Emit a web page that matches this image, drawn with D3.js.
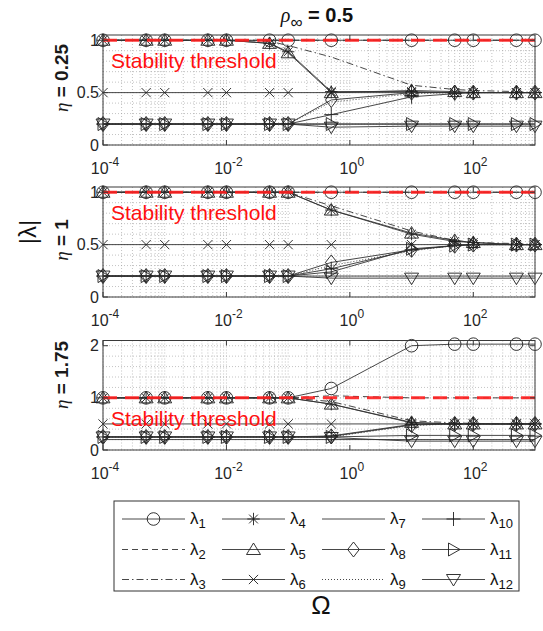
<!DOCTYPE html>
<html><head><meta charset="utf-8">
<script src="https://cdn.jsdelivr.net/npm/d3@7"></script>
<style>
body{margin:0;background:#fff}
svg{display:block}
text{font-family:"Liberation Sans",Arial,Helvetica,sans-serif}
</style>
</head><body>
<svg id="chart" width="543" height="631"></svg>
<script>
// ---------------- data ----------------
const omega = [1e-4, 5e-4, 1e-3, 5e-3, 1e-2, 5e-2, 0.1, 0.5, 10, 50, 100, 500, 1000];
const xTickValues = [1e-4, 1e-2, 1, 1e2];
const xTickExponents = ["-4", "-2", "0", "2"];
const etaValues = ["0.25", "1", "1.75"];
const yTicksLow = [0, 0.5, 1];
const yTicksHigh = [0, 1, 2];
const yMaxValues = [1.05, 1.05, 2.1];
const stabilityThreshold = 1;
const seriesNames = ["1","2","3","4","5","6","7","8","9","10","11","12"];

const lambdaEta025 = [
  [1,1,1,1,1,1,1,1,1,1,1,1,1],
  [1,1,1,1,1,1,1,1,1,1,1,1,1],
  [1,1,1,1,1,0.99,0.95,0.84,0.57,0.53,0.52,0.51,0.5],
  [1,1,1,1,1,0.97,0.89,0.51,0.51,0.5,0.5,0.5,0.5],
  [1,1,1,1,1,0.97,0.88,0.5,0.52,0.51,0.5,0.5,0.5],
  [0.5,0.5,0.5,0.5,0.5,0.5,0.5,0.5,0.5,0.5,0.5,0.5,0.5],
  [0.2,0.2,0.2,0.2,0.2,0.2,0.2,0.2,0.2,0.2,0.2,0.2,0.2],
  [0.2,0.2,0.2,0.2,0.2,0.2,0.2,0.43,0.5,0.5,0.5,0.5,0.5],
  [0.2,0.2,0.2,0.2,0.2,0.2,0.2,0.41,0.49,0.5,0.5,0.5,0.5],
  [0.2,0.2,0.2,0.2,0.2,0.2,0.2,0.29,0.46,0.49,0.5,0.5,0.5],
  [0.2,0.2,0.2,0.2,0.2,0.2,0.2,0.2,0.2,0.2,0.2,0.2,0.2],
  [0.2,0.2,0.2,0.2,0.2,0.2,0.2,0.17,0.18,0.18,0.18,0.18,0.18]
];
const lambdaEta1 = [
  [1,1,1,1,1,1,1,1,1,1,1,1,1],
  [1,1,1,1,1,1,1,1,1,1,1,1,1],
  [1,1,1,1,1,1,1,0.87,0.63,0.54,0.52,0.51,0.5],
  [1,1,1,1,1,1,1,0.83,0.6,0.53,0.52,0.5,0.5],
  [1,1,1,1,1,1,1,0.83,0.61,0.54,0.52,0.5,0.5],
  [0.5,0.5,0.5,0.5,0.5,0.5,0.5,0.5,0.5,0.5,0.5,0.5,0.5],
  [0.2,0.2,0.2,0.2,0.2,0.2,0.2,0.2,0.2,0.2,0.2,0.2,0.2],
  [0.2,0.2,0.2,0.2,0.2,0.2,0.2,0.33,0.45,0.49,0.5,0.5,0.5],
  [0.2,0.2,0.2,0.2,0.2,0.2,0.2,0.3,0.44,0.49,0.5,0.5,0.5],
  [0.2,0.2,0.2,0.2,0.2,0.2,0.2,0.27,0.45,0.49,0.5,0.5,0.5],
  [0.2,0.2,0.2,0.2,0.2,0.2,0.2,0.24,0.46,0.49,0.5,0.5,0.5],
  [0.2,0.2,0.2,0.2,0.2,0.2,0.2,0.18,0.18,0.18,0.18,0.18,0.18]
];
const lambdaEta175 = [
  [1,1,1,1,1,1,1,1.18,2.0,2.03,2.03,2.03,2.03],
  [1,1,1,1,1,1,1,1.04,1.0,1.0,1.0,1.0,1.0],
  [1,1,1,1,1,1,1,0.93,0.56,0.52,0.51,0.5,0.5],
  [1,1,1,1,1,1,1,0.88,0.52,0.5,0.5,0.5,0.5],
  [1,1,1,1,1,1,1,0.88,0.53,0.5,0.5,0.5,0.5],
  [0.5,0.5,0.5,0.5,0.5,0.5,0.5,0.5,0.5,0.5,0.5,0.5,0.5],
  [0.2,0.2,0.2,0.2,0.2,0.2,0.2,0.2,0.2,0.2,0.2,0.2,0.2],
  [0.25,0.25,0.25,0.25,0.25,0.25,0.25,0.26,0.48,0.5,0.5,0.5,0.5],
  [0.25,0.25,0.25,0.25,0.25,0.25,0.25,0.25,0.47,0.5,0.5,0.5,0.5],
  [0.25,0.25,0.25,0.25,0.25,0.25,0.25,0.27,0.49,0.5,0.5,0.5,0.5],
  [0.25,0.25,0.25,0.25,0.25,0.25,0.25,0.25,0.28,0.28,0.28,0.28,0.28],
  [0.25,0.25,0.25,0.25,0.25,0.25,0.25,0.24,0.17,0.17,0.17,0.17,0.17]
];
const panelData = [lambdaEta025, lambdaEta1, lambdaEta175];

// ---------------- styles ----------------
const seriesStyles = [
  {dash:null, marker:"circle"},
  {dash:"6,4", marker:null},
  {dash:"7,3,1.5,3", marker:null},
  {dash:null, marker:"asterisk"},
  {dash:null, marker:"triangleUp"},
  {dash:null, marker:"cross"},
  {dash:null, marker:null},
  {dash:null, marker:"diamond"},
  {dash:"1,2", marker:null},
  {dash:null, marker:"plus"},
  {dash:null, marker:"triangleRight"},
  {dash:null, marker:"triangleDown"}
];
const LINE_COLOR = "#333";
const MARK_COLOR = "#1e1e1e";
const AXIS_COLOR = "#3a3a3a";

function markerPath(type){
  switch(type){
    case "circle": { const r=6.3; return `M${r},0A${r},${r} 0 1,1 ${-r},0A${r},${r} 0 1,1 ${r},0Z`; }
    case "triangleUp": return "M0,-6.5L7,5L-7,5Z";
    case "triangleDown": return "M0,6.5L7,-5L-7,-5Z";
    case "triangleRight": return "M6.5,0L-5,-6.5L-5,6.5Z";
    case "diamond": return "M0,-7.5L5.8,0L0,7.5L-5.8,0Z";
    case "cross": { const s=4.6; return `M${-s},${-s}L${s},${s}M${-s},${s}L${s},${-s}`; }
    case "plus": { const s=7; return `M0,${-s}L0,${s}M${-s},0L${s},0`; }
    case "asterisk": { const s=6.2, d=4.4; return `M0,${-s}L0,${s}M${-s},0L${s},0M${-d},${-d}L${d},${d}M${-d},${d}L${d},${-d}`; }
  }
  return "";
}

// ---------------- layout ----------------
const svg = d3.select("#chart");
const left = 103, right = 535;
const panels = [
  {top:35, bottom:145, ticks:yTicksLow, minorStep:0.1},
  {top:187, bottom:297, ticks:yTicksLow, minorStep:0.1},
  {top:340.5, bottom:450, ticks:yTicksHigh, minorStep:0.2}
];
const etaLabelCenters = [78, 240, 375];
const x = d3.scaleLog().domain([1e-4, 1e3]).range([left, right]);

const xMinor = [];
for (let k=-4; k<3; k++) for (let m=1; m<10; m++) xMinor.push(m*Math.pow(10,k));
xMinor.push(1e3);

panels.forEach((p, pi) => {
  const y = d3.scaleLinear().domain([0, yMaxValues[pi]]).range([p.bottom, p.top]);
  const g = svg.append("g");

  const yMinor = d3.range(0, yMaxValues[pi] + 1e-9, p.minorStep);
  g.append("g").selectAll("line").data(xMinor).join("line")
    .attr("x1", d=>x(d)).attr("x2", d=>x(d)).attr("y1", p.top).attr("y2", p.bottom)
    .attr("stroke", "#9a9a9a").attr("stroke-width", 0.6).attr("stroke-dasharray", "1,2");
  g.append("g").selectAll("line").data(yMinor).join("line")
    .attr("x1", left).attr("x2", right).attr("y1", d=>y(d)).attr("y2", d=>y(d))
    .attr("stroke", "#9a9a9a").attr("stroke-width", 0.6).attr("stroke-dasharray", "1,2");

  const data = panelData[pi];
  data.forEach((vals, si) => {
    const st = seriesStyles[si];
    const pts = vals.map((v,i)=>[omega[i], v]);
    const line = d3.line().x(d=>x(d[0])).y(d=>y(d[1]));
    g.append("path").datum(pts).attr("d", line)
      .attr("fill","none").attr("stroke", LINE_COLOR).attr("stroke-width", 0.9)
      .attr("stroke-dasharray", st.dash);
    if (st.marker) {
      g.append("g").selectAll("path").data(pts).join("path")
        .attr("transform", d=>`translate(${x(d[0])},${y(d[1])})`)
        .attr("d", markerPath(st.marker))
        .attr("fill","none").attr("stroke", MARK_COLOR).attr("stroke-width", 0.9);
    }
  });

  g.append("line").attr("x1", left).attr("x2", right)
    .attr("y1", y(stabilityThreshold)).attr("y2", y(stabilityThreshold))
    .attr("stroke", "#ff1f1f").attr("stroke-opacity", 0.9).attr("stroke-width", 3)
    .attr("stroke-dasharray", "14,8");
  g.append("text").attr("x", 111).attr("y", y(stabilityThreshold) + 28)
    .attr("fill", "#ff1010").attr("font-size", 21).text("Stability threshold");

  g.append("rect").attr("x", left).attr("y", p.top).attr("width", right-left).attr("height", p.bottom-p.top)
    .attr("fill","none").attr("stroke", AXIS_COLOR).attr("stroke-width", 1);

  g.append("g").selectAll("line").data(xTickValues).join("line")
    .attr("x1", d=>x(d)).attr("x2", d=>x(d)).attr("y1", p.bottom).attr("y2", p.bottom-5)
    .attr("stroke", AXIS_COLOR);
  g.append("g").selectAll("line").data(xTickValues).join("line")
    .attr("x1", d=>x(d)).attr("x2", d=>x(d)).attr("y1", p.top).attr("y2", p.top+5)
    .attr("stroke", AXIS_COLOR);
  const xl = g.append("g").selectAll("text").data(xTickValues).join("text")
    .attr("x", d=>x(d)+2).attr("y", p.bottom + 29)
    .attr("text-anchor", "middle").attr("font-size", 16).attr("fill", "#262626");
  xl.append("tspan").text("10");
  xl.append("tspan").attr("dy", -8).attr("font-size", 12).text((d,i)=>xTickExponents[i]);

  g.append("g").selectAll("line").data(p.ticks).join("line")
    .attr("x1", left).attr("x2", left+5).attr("y1", d=>y(d)).attr("y2", d=>y(d)).attr("stroke", AXIS_COLOR);
  g.append("g").selectAll("line").data(p.ticks).join("line")
    .attr("x1", right).attr("x2", right-5).attr("y1", d=>y(d)).attr("y2", d=>y(d)).attr("stroke", AXIS_COLOR);
  g.append("g").selectAll("text").data(p.ticks).join("text")
    .attr("x", 99).attr("y", d=>y(d)+5.5).attr("text-anchor", "end")
    .attr("font-size", 16).attr("fill", "#262626").text(d=>String(d));

  const et = g.append("text")
    .attr("transform", `translate(68,${etaLabelCenters[pi]}) rotate(-90)`)
    .attr("text-anchor", "middle").attr("font-size", 19).attr("font-weight", "bold").attr("fill", "#1a1a1a");
  et.append("tspan").attr("font-style","italic").attr("font-weight","normal").attr("font-family","Liberation Serif, serif").text("η");
  et.append("tspan").text(" = " + etaValues[pi]);
});

// title
const title = svg.append("text").attr("x", 317).attr("y", 22).attr("text-anchor", "middle")
  .attr("font-size", 20).attr("font-weight", "bold").attr("fill", "#111");
title.append("tspan").attr("font-style","italic").attr("font-weight","normal").attr("font-family","Liberation Serif, serif").text("ρ");
title.append("tspan").attr("dy", 6).attr("font-size", 17).attr("font-weight","normal").text("∞");
title.append("tspan").attr("dy", -6).text(" = 0.5");

svg.append("text").attr("transform", "translate(36,232) rotate(-90)").attr("text-anchor","middle")
  .attr("font-size", 24).attr("fill", "#111").text("|λ|");

svg.append("text").attr("x", 321).attr("y", 614).attr("text-anchor","middle")
  .attr("font-family", "Liberation Serif, serif").attr("font-size", 26).attr("fill", "#111").text("Ω");

// legend
const legend = svg.append("g");
legend.append("rect").attr("x", 114).attr("y", 501).attr("width", 405).attr("height", 90)
  .attr("fill", "#fff").attr("stroke", "#333").attr("stroke-width", 1);
const rowY = [519, 549.5, 579.5];
const colX = [122, 222, 322, 422];
seriesNames.forEach((name, i) => {
  const col = Math.floor(i / 3), row = i % 3;
  const st = seriesStyles[i];
  const lx = colX[col], ly = rowY[row];
  legend.append("line").attr("x1", lx).attr("x2", lx+63).attr("y1", ly).attr("y2", ly)
    .attr("stroke", LINE_COLOR).attr("stroke-width", 0.9).attr("stroke-dasharray", st.dash);
  if (st.marker) {
    legend.append("path").attr("transform", `translate(${lx+31.5},${ly})`).attr("d", markerPath(st.marker))
      .attr("fill","none").attr("stroke", MARK_COLOR).attr("stroke-width", 0.9);
  }
  const t = legend.append("text").attr("x", lx+68).attr("y", ly+5).attr("font-size", 17).attr("fill", "#111");
  t.append("tspan").text("λ");
  t.append("tspan").attr("dy", 4).attr("font-size", 13).text(name);
});
</script>
</body></html>
